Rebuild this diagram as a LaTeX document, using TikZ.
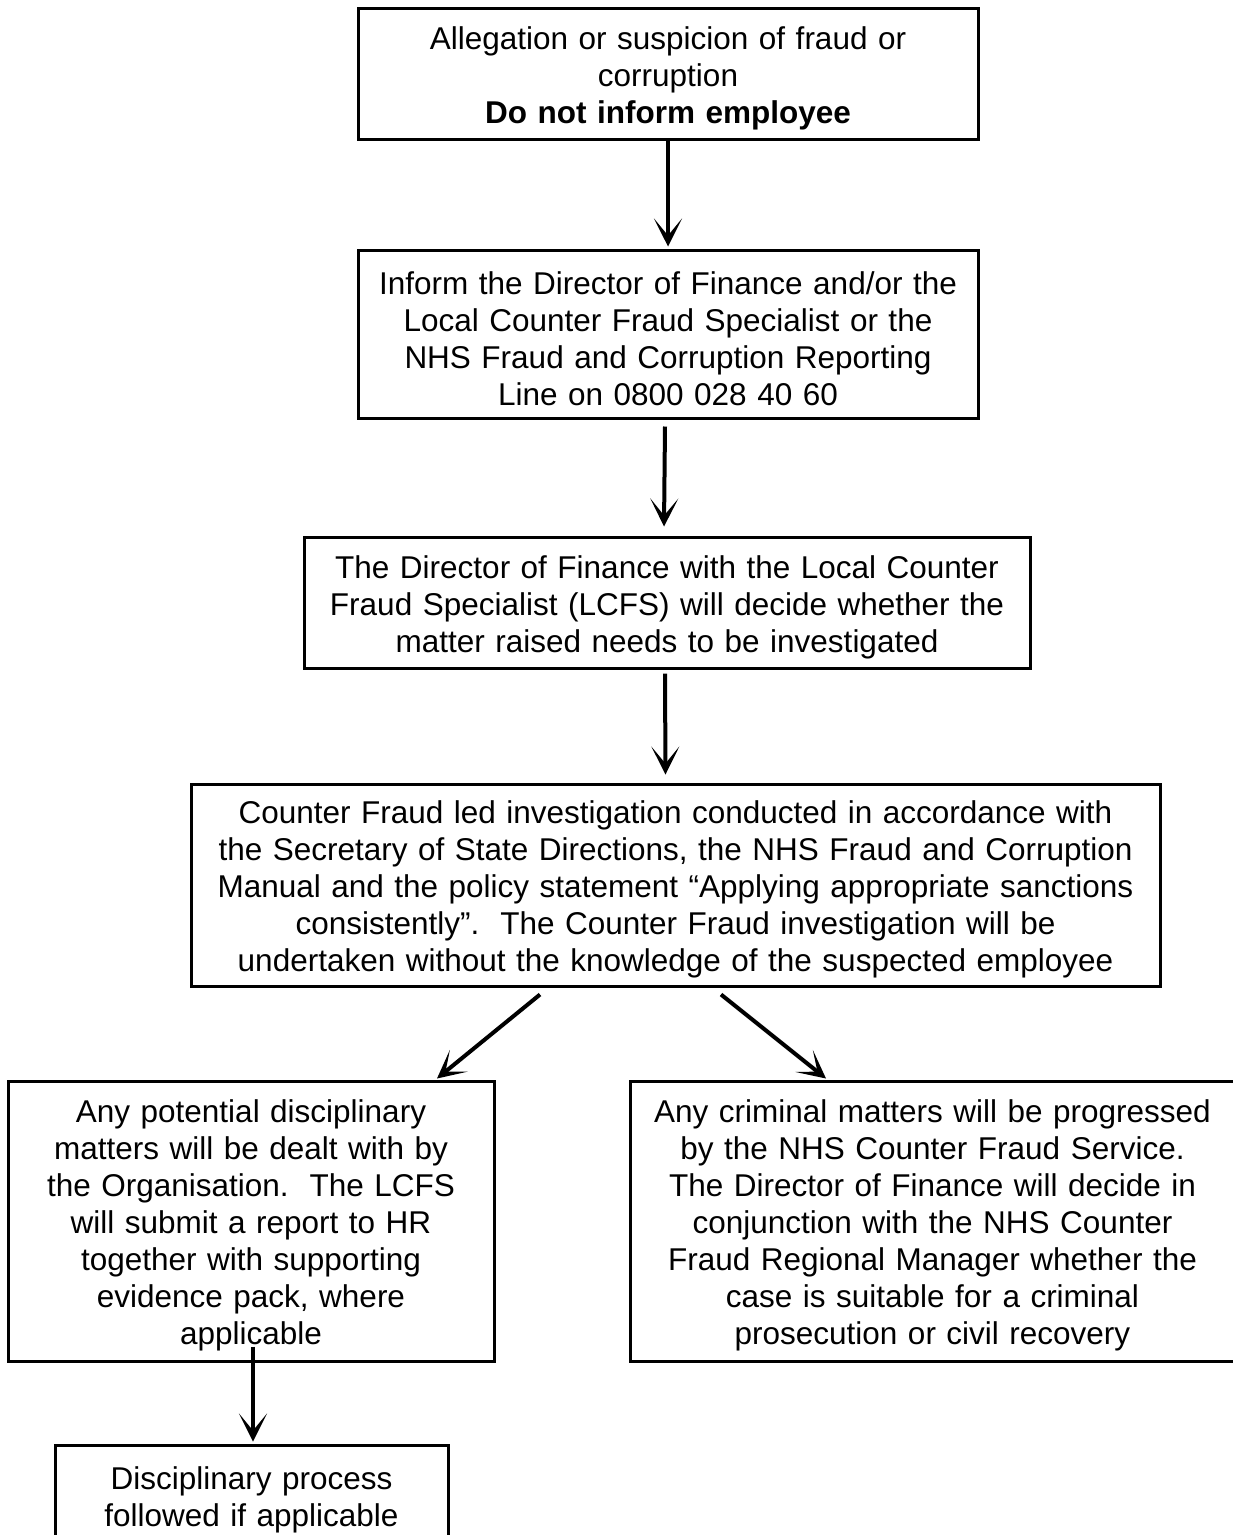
\documentclass[tikz,border=0pt]{standalone}
\usepackage{fontspec}
\setmainfont{Liberation Sans}
\usetikzlibrary{arrows.meta,calc}
\tikzset{
  box/.style={draw, line width=3pt, inner sep=0pt, align=center,
    font=\fontsize{31.5}{37}\selectfont,
    execute at begin node={\rule{0pt}{32pt}}},
  arr/.style={line width=4pt, -{Stealth[length=28pt,width=28pt,inset=17pt]}}
}
\begin{document}
\begin{tikzpicture}[x=1pt,y=-1pt]
\fill[white] (0,0) rectangle (1233,1535);
\useasboundingbox (0,0) rectangle (1233,1535);
\begin{scope}
\clip (0,0) rectangle (1233,1535);
\node[box, text width=620pt, minimum height=131pt] (b1) at (668,73.5)
  {Allegation or suspicion of fraud or\\corruption\\\textbf{Do not inform employee}};
\node[box, text width=620pt, minimum height=168pt] (b2) at (668,334)
  {Inform the Director of Finance and/or the\\Local Counter Fraud Specialist or the\\NHS Fraud and Corruption Reporting\\Line on 0800 028 40 60};
\node[box, text width=726pt, minimum height=131pt] (b3) at (667,602.5)
  {The Director of Finance with the Local Counter\\Fraud Specialist (LCFS) will decide whether the\\matter raised needs to be investigated};
\node[box, text width=969pt, minimum height=202pt] (b4) at (675.5,885)
  {Counter Fraud led investigation conducted in accordance with\\the Secretary of State Directions, the NHS Fraud and Corruption\\Manual and the policy statement “Applying appropriate sanctions\\consistently”.\ \ The Counter Fraud investigation will be\\undertaken without the knowledge of the suspected employee};
\node[box, text width=486pt, minimum height=280pt] (b5) at (251,1221)
  {Any potential disciplinary\\matters will be dealt with by\\the Organisation.\ \ The LCFS\\will submit a report to HR\\together with supporting\\evidence pack, where\\applicable};
\node[box, text width=605pt, minimum height=280pt] (b6) at (932.5,1221)
  {Any criminal matters will be progressed\\by the NHS Counter Fraud Service.\\The Director of Finance will decide in\\conjunction with the NHS Counter\\Fraud Regional Manager whether the\\case is suitable for a criminal\\prosecution or civil recovery};
\node[box, text width=393pt, minimum height=100pt] (b7) at (251.5,1495)
  {Disciplinary process\\followed if applicable};
\end{scope}
\draw[arr] (b1.south) -- ($(b2.north)+(0,-2)$);
\draw[arr] ($(b2.south)+(-3,7)$) -- ($(b3.north)+(-3,-9)$);
\draw[arr] ($(b3.south)+(-2,4)$) -- ($(b4.north)+(-10,-8)$);
\draw[arr] ($(b4.south)+(-135.5,7)$) -- ($(b5.north)+(186,-1)$);
\draw[arr] ($(b4.south)+(45.5,7)$) -- ($(b6.north)+(-106.5,-1)$);
\draw[arr] ($(b5.south)+(2,-16)$) -- ($(b7.north)+(1.5,-2)$);
\end{tikzpicture}
\end{document}
